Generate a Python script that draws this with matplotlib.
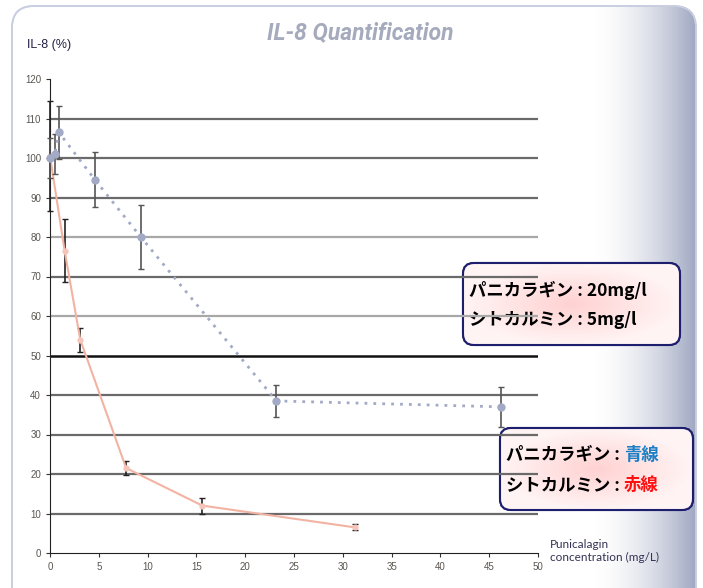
import numpy as np
import matplotlib
matplotlib.use("Agg")
import matplotlib.pyplot as plt
from matplotlib.patches import FancyBboxPatch
from matplotlib.colors import LinearSegmentedColormap

plt.rcParams['font.family'] = ['Liberation Sans', 'Noto Sans CJK JP', 'DejaVu Sans']

# ---- data ----
puni_x = [0, 0.5, 0.9, 4.6, 9.3, 23.2, 46.2]
puni_y = [100, 101, 106.5, 94.5, 80, 38.5, 37]
puni_err = [5, 5, 6.7, 7, 8, 4, 5]

cito_x = [0, 1.5, 3.1, 7.8, 15.6, 31.2]
cito_y = [100.5, 76.5, 54, 21.5, 12, 6.5]
cito_err = [14, 8, 3, 1.7, 2, 0.8]

x_ticks = [0, 5, 10, 15, 20, 25, 30, 35, 40, 45, 50]
y_ticks = [0, 10, 20, 30, 40, 50, 60, 70, 80, 90, 100, 110, 120]

W, H = 703, 588
fig = plt.figure(figsize=(W / 100, H / 100), dpi=100)

# ---- decorative background in pixel coordinates ----
bg = fig.add_axes([0, 0, 1, 1], zorder=-5)
bg.set_xlim(0, W)
bg.set_ylim(H, 0)
bg.axis('off')

frame = FancyBboxPatch((12, 6), 684, 620, boxstyle="round,pad=0,rounding_size=22",
                       facecolor='none', edgecolor='#c8cee0', lw=1.2)
bg.add_patch(frame)
grad = np.linspace(0, 1, 200) ** 1.8
cmap_side = LinearSegmentedColormap.from_list('side', ['#ffffff', '#9ea6c0'])
im = bg.imshow(np.tile(grad, (10, 1)), cmap=cmap_side, extent=(590, 697, H, 6),
               aspect='auto', zorder=0)
im.set_clip_path(frame)
bg.add_patch(FancyBboxPatch((12, 6), 684, 620, boxstyle="round,pad=0,rounding_size=22",
                            facecolor='none', edgecolor='#c8cee0', lw=1.2, zorder=2))

# ---- data axes ----
ax = fig.add_axes([50 / W, 1 - 553 / H, 488 / W, 474 / H])
ax.patch.set_alpha(0)

for yv in y_ticks[1:-1]:
    if yv == 50:
        ax.axhline(yv, color='#111111', lw=1.8, zorder=1)
    elif yv in (60, 80):
        ax.axhline(yv, color='#a8a8a8', lw=1.6, zorder=1)
    else:
        ax.axhline(yv, color='#6a6a6a', lw=1.6, zorder=1)

ax.errorbar(cito_x, cito_y, yerr=cito_err, color='#f2b3a3', lw=1.5,
            marker='o', ms=3.5, mfc='#f6c4b8', mec='#f6c4b8',
            ecolor='#222222', elinewidth=1.2, capsize=2.5, capthick=1.0,
            zorder=3, clip_on=False)
ax.errorbar(puni_x, puni_y, yerr=puni_err, color='#a3aac6', lw=2.0, ls=(0, (1, 2.2)),
            marker='o', ms=5, mfc='#a3aac6', mec='#a3aac6',
            ecolor='#555555', elinewidth=1.2, capsize=2.5, capthick=1.0,
            zorder=4, clip_on=False)

ax.set_xlim(0, 50)
ax.set_ylim(0, 120)
ax.set_xticks(x_ticks)
ax.set_yticks(y_ticks)
ax.tick_params(labelsize=7, colors='#333333', length=3, width=0.8, direction='out')
for lab in ax.get_xticklabels() + ax.get_yticklabels():
    lab.set_color('#5a5550')
for s in ['top', 'right']:
    ax.spines[s].set_visible(False)
ax.spines['left'].set_color('#222222')
ax.spines['bottom'].set_color('#222222')

# ---- texts ----
fig.text(360 / W, 1 - 33 / H, 'IL-8 Quantification', ha='center', va='center',
         fontsize=16.5, fontstyle='italic', fontweight='bold', color='#a5abbd',
         family=['Roboto', 'DejaVu Sans'])
fig.text(27 / W, 1 - 45 / H, 'IL-8 (%)', ha='left', va='center', fontsize=9,
         color='#222244')
fig.text(550 / W, 1 - 551 / H, 'Punicalagin\nconcentration (mg/L)', ha='left',
         va='center', fontsize=8.5, color='#333355', linespacing=1.25,
         family=['Lato', 'DejaVu Sans'])

# ---- annotation boxes ----
cmap_pink = LinearSegmentedColormap.from_list('pink', ['#ffd2d2', '#fff4f4'])


def note_box(x0, y0, w, h):
    box = FancyBboxPatch((x0, y0), w, h, boxstyle="round,pad=0,rounding_size=11",
                         facecolor='#fff0f0', edgecolor='#1e1e6e', lw=1.5, zorder=5)
    bg.add_patch(box)
    yy, xx = np.mgrid[-1:1:60j, -1:1:120j]
    rr = np.clip(np.sqrt(xx ** 2 + yy ** 2), 0, 1)
    img = bg.imshow(rr, cmap=cmap_pink, extent=(x0, x0 + w, y0 + h, y0),
                    aspect='auto', zorder=5.5)
    img.set_clip_path(box)
    bg.add_patch(FancyBboxPatch((x0, y0), w, h, boxstyle="round,pad=0,rounding_size=11",
                                facecolor='none', edgecolor='#1e1e6e', lw=1.5, zorder=6))


note_box(463, 263, 217, 82)
note_box(500, 428, 193, 82)

jp = ['Noto Sans CJK JP', 'DejaVu Sans']
tkw = dict(fontsize=12.5, fontweight='bold', family=jp, va='center', ha='left', zorder=7)
bg.text(469, 290, 'パニカラギン : 20mg/l', color='black', **tkw)
bg.text(469, 320, 'シトカルミン : 5mg/l', color='black', **tkw)

fig.canvas.draw()
r = fig.canvas.get_renderer()
inv = bg.transData.inverted()
for yy, lead, tail, col in [(455, 'パニカラギン : ', '青線', '#1b7fc7'),
                            (485, 'シトカルミン : ', '赤線', '#ff1010')]:
    t = bg.text(506, yy, lead, color='black', **tkw)
    bb = t.get_window_extent(renderer=r)
    xe = inv.transform((bb.x1, bb.y0))[0]
    bg.text(xe, yy, tail, color=col, **tkw)

fig.savefig('out.png', dpi=100)
